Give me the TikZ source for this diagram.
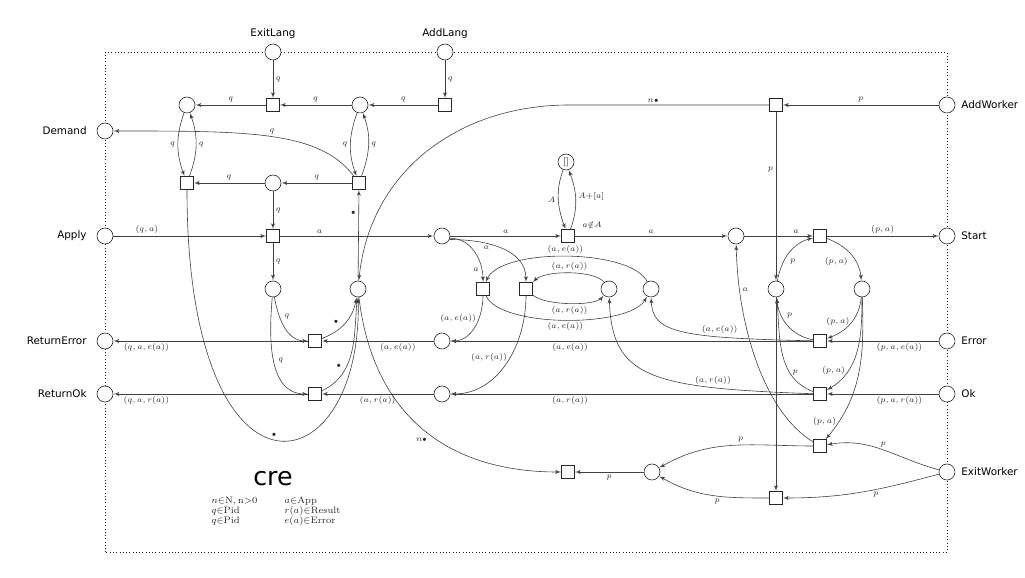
\documentclass[tikz,border=0pt]{standalone}
\usepackage{amsmath}
\usepackage{fontspec}
\newfontfamily\lblfont{DejaVu Sans}
\usetikzlibrary{arrows}

\begin{document}
\begin{tikzpicture}[x=0.75pt,y=0.75pt,->,>=latex',shorten >=0.3pt,color=black!75,line width=0.45pt,
      place node/.style={circle,draw=black!85,fill=white,minimum size=12pt,inner sep=0pt},
      trans node/.style={rectangle,draw=black!85,fill=white,minimum size=9.5pt,inner sep=0pt},
      every label/.style={font=\lblfont\fontsize{7.8}{9}\selectfont,text=black},
      lport/.style={place node,label={[label distance=4pt]left:#1}},
      rport/.style={place node,label={[label distance=1pt]right:#1}},
      tport/.style={place node,label={[label distance=0pt]above:#1}},
      lbl/.style={font=\fontsize{6}{7}\selectfont,inner sep=2pt,text=black!85}]

    \useasboundingbox (0,0) rectangle (1025,578);
    \draw[-,dotted,black!90] (105,26) rectangle (947,526);

    \node[tport=ExitLang] (exitlang) at (273,526) {};
    \node[tport=AddLang] (addlang) at (445,526) {};
    \node[lport=Demand] (demand) at (105,447) {};
    \node[lport=Apply] (apply) at (105,342) {};
    \node[lport=ReturnError] (reterr) at (105,237) {};
    \node[lport=ReturnOk] (retok) at (105,184) {};
    \node[rport=AddWorker] (addworker) at (947,473) {};
    \node[rport=Start] (start) at (947,342) {};
    \node[rport=Error] (error) at (947,237) {};
    \node[rport=Ok] (ok) at (947,184) {};
    \node[rport=ExitWorker] (exitworker) at (947,106) {};

    \node[place node] (lang1) at (187,473) {};
    \node[place node] (lang2) at (360,473) {};
    \node[place node] (lang3) at (273,395) {};
    \node[place node] (wait) at (273,289) {};
    \node[place node] (slots) at (358,289) {};
    \node[place node] (app) at (442,342) {};
    \node[place node,font=\fontsize{6.5}{7}\selectfont,text=black] (seen) at (566,416) {[]};
    \node[place node] (errq) at (442,237) {};
    \node[place node] (resq) at (442,184) {};
    \node[place node] (rcache) at (609,289) {};
    \node[place node] (ecache) at (651,289) {};
    \node[place node] (queue) at (736,342) {};
    \node[place node] (idle) at (776,289) {};
    \node[place node] (busy) at (862,289) {};
    \node[place node] (gone) at (652,106) {};

    \node[trans node] (texl) at (273,473) {};
    \node[trans node] (tadl) at (445,473) {};
    \node[trans node] (tleft) at (187,395) {};
    \node[trans node] (tright) at (359,395) {};
    \node[trans node] (tapp) at (273,342) {};
    \node[trans node] (treterr) at (315,237) {};
    \node[trans node] (tretok) at (315,184) {};
    \node[trans node] (tcheck) at (568,342) {};
    \node[trans node] (thiterr) at (483,289) {};
    \node[trans node] (thitres) at (526,289) {};
    \node[trans node] (tstart) at (820,342) {};
    \node[trans node] (terror) at (820,237) {};
    \node[trans node] (tok) at (820,184) {};
    \node[trans node] (taddw) at (776,473) {};
    \node[trans node] (texitb) at (820,132) {};
    \node[trans node] (texiti) at (776,80) {};
    \node[trans node] (tremove) at (568,106) {};

    \node[lbl,inner sep=0pt] (guard) at (592,353) {$a{\notin}A$};

    \path[every node/.style={lbl}]
    (exitlang) edge node[right] {$q$} (texl)
    (lang2) edge node[above] {$q$} (texl)
    (texl) edge node[above] {$q$} (lang1)
    (addlang) edge node[right] {$q$} (tadl)
    (tadl) edge node[above] {$q$} (lang2)
    (lang1) edge[out=-110,in=110] node[left] {$q$} (tleft)
    (tleft) edge[out=70,in=-70] node[right] {$q$} (lang1)
    (lang2) edge[out=-110,in=110] node[left] {$q$} (tright)
    (tright) edge[out=70,in=-70] node[right] {$q$} (lang2)
    (tright) edge node[above] {$q$} (lang3)
    (lang3) edge node[above] {$q$} (tleft)
    (lang3) edge node[right] {$q$} (tapp)
    (apply) edge node[above,pos=0.22] {$(q,a)$} (tapp)
    (tapp) edge node[above,pos=0.26] {$a$} (app)
    (tapp) edge node[right] {$q$} (wait)
    (wait) edge[out=-80,in=180] node[above right,pos=0.4] {$q$} (treterr)
    (wait) edge[out=-95,in=180] node[above right,pos=0.55] {$q$} (tretok)
    (treterr) edge node[below,pos=0.83] {$(q,a,e(a))$} (reterr)
    (tretok) edge node[below,pos=0.83] {$(q,a,r(a))$} (retok)
    (errq) edge node[below,pos=0.32] {$(a,e(a))$} (treterr)
    (resq) edge node[below,pos=0.5] {$(a,r(a))$} (tretok)
    (treterr) edge[out=20,in=-100] node[above left,pos=0.4] {${\scriptscriptstyle\bullet}$} (slots)
    (tretok) edge[out=25,in=-95] node[above left,pos=0.3] {${\scriptscriptstyle\bullet}$} (slots)
    (slots) edge node[left,pos=0.75] {${\scriptscriptstyle\bullet}$} (tright);

    \draw (tleft) .. controls (187,58) and (362,88) .. (slots) node[lbl,pos=0.5,above] {${\scriptscriptstyle\bullet}$};
    \draw (tright) .. controls (320,447) and (250,447) .. (demand) node[lbl,pos=0.5,above] {$q$};
    \draw (taddw) -- (569,473) node[lbl,above,pos=0.58] {$n{\scriptscriptstyle\bullet}$} .. controls (460,473) and (370,408) .. (slots);
    \draw (slots) .. controls (372,170) and (440,106) .. (tremove) node[lbl,pos=0.55,below left] {$n{\scriptscriptstyle\bullet}$};

    \path[every node/.style={lbl}]
    (app) edge node[above] {$a$} (tcheck)
    (tcheck) edge node[above] {$a$} (queue)
    (seen) edge[out=-110,in=110] node[left] {$A$} (tcheck)
    (tcheck) edge[out=70,in=-70] node[right,pos=0.55] {$A{+}[a]$} (seen)
    (app.-15) edge[out=0,in=90] node[left,pos=0.8] {$a$} (thiterr)
    (app.-25) edge[out=0,in=90] node[below,pos=0.35] {$a$} (thitres)
    (thiterr) edge[out=-90,in=0] node[left,pos=0.35] {$(a,e(a))$} (errq)
    (thitres) edge[out=-90,in=0] node[left,pos=0.45] {$(a,r(a))$} (resq)
    (error) edge node[below,pos=0.35] {$(p,a,e(a))$} (terror)
    (ok) edge node[below,pos=0.35] {$(p,a,r(a))$} (tok)
    (terror) edge node[below,pos=0.67] {$(a,e(a))$} (errq)
    (tok) edge node[below,pos=0.67] {$(a,r(a))$} (resq);

    \draw (ecache) .. controls (630,330) and (500,330) .. (thiterr) node[lbl,pos=0.5,above] {$(a,e(a))$};
    \draw (thiterr) .. controls (500,250) and (630,250) .. (ecache) node[lbl,pos=0.5,below] {$(a,e(a))$};
    \draw (rcache) .. controls (595,308) and (545,308) .. (thitres) node[lbl,pos=0.5,above] {$(a,r(a))$};
    \draw (thitres) .. controls (545,272) and (595,272) .. (rcache) node[lbl,pos=0.5,below] {$(a,r(a))$};
    \draw (terror) .. controls (680,240) and (652,245) .. (ecache) node[lbl,pos=0.3,above] {$(a,e(a))$};
    \draw (tok) .. controls (650,190) and (612,200) .. (rcache) node[lbl,pos=0.25,above] {$(a,r(a))$};

    \path[every node/.style={lbl}]
    (queue) edge node[above,pos=0.75] {$a$} (tstart)
    (tstart) edge node[above] {$(p,a)$} (start)
    (idle) edge[out=80,in=195] node[below right,pos=0.45] {$p$} (tstart)
    (tstart) edge[out=-20,in=95] node[below left,pos=0.5] {$(p,a)$} (busy)
    (busy) edge[out=-95,in=20] node[left,pos=0.45] {$(p,a)$} (terror)
    (terror) edge[out=170,in=-85] node[above right,pos=0.6] {$p$} (idle)
    (busy) edge[out=-90,in=30] node[left,pos=0.72] {$(p,a)$} (tok)
    (tok) edge[out=160,in=-85] node[right,pos=0.3] {$p$} (idle)
    (busy) edge[out=-88,in=50] node[left,pos=0.86] {$(p,a)$} (texitb)
    (addworker) edge node[above] {$p$} (taddw)
    (taddw) edge node[left,pos=0.34] {$p$} (idle)
    (idle) edge (texiti)
    (exitworker) edge[out=165,in=10] node[above] {$p$} (texitb)
    (texitb) edge[out=180,in=30] node[above,pos=0.45] {$p$} (gone)
    (exitworker) edge[out=195,in=0] node[below,pos=0.4] {$p$} (texiti)
    (texiti) edge[out=180,in=-30] node[below,pos=0.45] {$p$} (gone)
    (gone) edge node[below] {$p$} (tremove);

    \draw (texitb) .. controls (765,165) and (738,250) .. (queue) node[lbl,pos=0.82,right] {$a$};

    \node[font=\lblfont\fontsize{19}{20}\selectfont,text=black] (title) at (273,99) {cre};
    \node[lbl,font=\fontsize{7}{7.5}\selectfont,anchor=north west,align=left,inner sep=0pt] (legend1) at (211,81)
      {$n{\in}\mathrm{N},\mathrm{n}{>}0$\\$q{\in}\mathrm{Pid}$\\$q{\in}\mathrm{Pid}$};
    \node[lbl,font=\fontsize{7}{7.5}\selectfont,anchor=north west,align=left,inner sep=0pt] (legend2) at (284,81)
      {$a{\in}\mathrm{App}$\\$r(a){\in}\mathrm{Result}$\\$e(a){\in}\mathrm{Error}$};
\end{tikzpicture}
\end{document}
